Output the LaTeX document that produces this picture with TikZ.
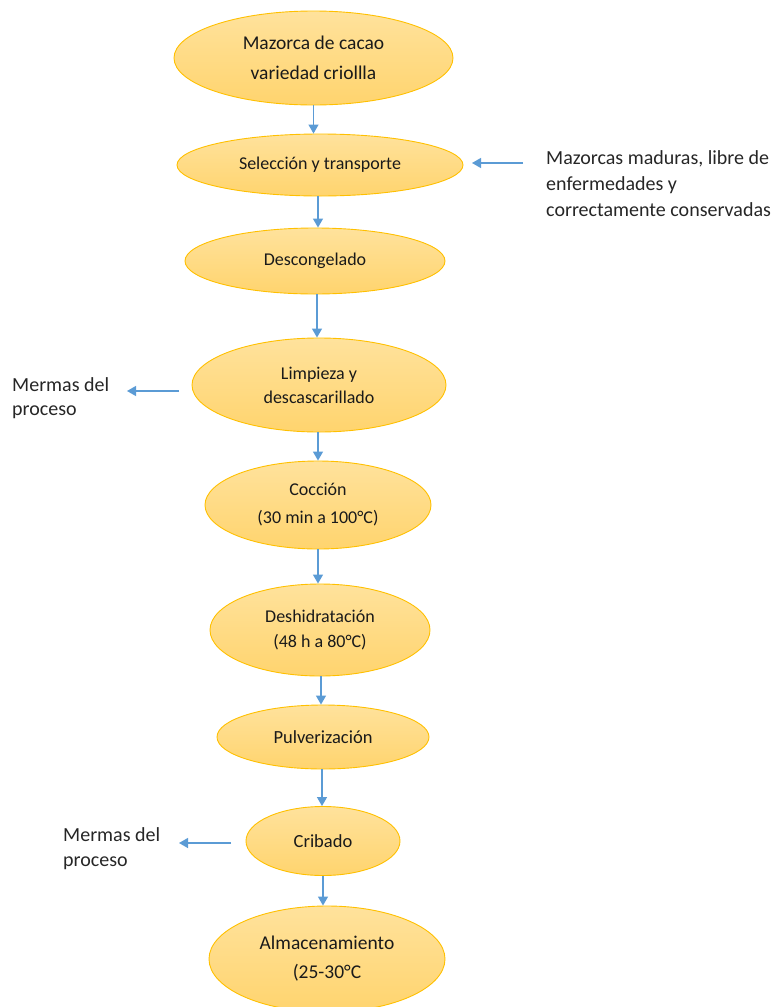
\documentclass[tikz,border=0pt]{standalone}
\usepackage{fontspec}
\setmainfont{Carlito}
\usetikzlibrary{shapes.geometric,arrows.meta}

\definecolor{edgeor}{HTML}{FFC000}
\definecolor{filltop}{HTML}{FFE29C}
\definecolor{fillbot}{HTML}{FFD46E}
\definecolor{flowblue}{HTML}{5B9BD5}
\definecolor{inktext}{HTML}{1A1A1A}
\definecolor{notetext}{HTML}{262626}

\tikzset{
  procnode/.style={ellipse, draw=edgeor, line width=0.9pt,
    top color=filltop, bottom color=fillbot,
    inner sep=0pt, align=center, text=inktext},
  flowarrow/.style={draw=flowblue, line width=1.3pt,
    -{Triangle[width=10pt,length=9pt]}},
  sidenote/.style={anchor=north west, align=left, inner sep=0pt,
    text=notetext, font=\fontsize{20}{26}\selectfont},
}

\begin{document}
\begin{tikzpicture}[x=1pt,y=-1pt]
\useasboundingbox (0,0) rectangle (776,1007);
\clip (0,0) rectangle (776,1007);

% process steps
\node[procnode, minimum width=279pt, minimum height=94pt,
      font=\fontsize{19.5}{30}\selectfont] (maz) at (313.5,58)
      {Mazorca de cacao\\variedad criollla};
\node[procnode, minimum width=286pt, minimum height=62pt,
      font=\fontsize{18}{24}\selectfont] (sel) at (320,165)
      {Selección y transporte};
\node[procnode, minimum width=260pt, minimum height=66pt,
      font=\fontsize{18}{24}\selectfont] (des) at (315,261)
      {Descongelado};
\node[procnode, minimum width=254pt, minimum height=94pt,
      font=\fontsize{18}{24}\selectfont] (lim) at (319,385)
      {Limpieza y\\descascarillado};
\node[procnode, minimum width=226pt, minimum height=88pt,
      font=\fontsize{18}{28}\selectfont] (coc) at (318,505)
      {Cocción\\(30 min a 100°C)};
\node[procnode, minimum width=220pt, minimum height=92pt,
      font=\fontsize{18}{25}\selectfont] (deh) at (320,630)
      {Deshidratación\\(48 h a 80°C)};
\node[procnode, minimum width=212pt, minimum height=64pt,
      font=\fontsize{18.5}{24}\selectfont] (pul) at (323,737)
      {Pulverización};
\node[procnode, minimum width=154pt, minimum height=69pt,
      font=\fontsize{18.5}{24}\selectfont] (cri) at (323,841)
      {Cribado};
\node[procnode, minimum width=236pt, minimum height=106pt,
      font=\fontsize{19.5}{29}\selectfont] (alm) at (327,959)
      {Almacenamiento\\(25-30°C};

% main flow
\draw[flowarrow] (maz.south) -- (maz.south |- sel.north);
\draw[flowarrow] ([xshift=-2pt]sel.south) -- ([xshift=-2pt]sel.south |- des.north);
\draw[flowarrow] ([xshift=2pt]des.south) -- ([xshift=2pt]des.south |- lim.north);
\draw[flowarrow] ([xshift=-1pt]lim.south) -- ([xshift=-1pt]lim.south |- coc.north);
\draw[flowarrow] (coc.south) -- (coc.south |- deh.north);
\draw[flowarrow] ([xshift=1pt]deh.south) -- ([xshift=1pt]deh.south |- pul.north);
\draw[flowarrow] ([xshift=-1pt]pul.south) -- ([xshift=-1pt]pul.south |- cri.north);
\draw[flowarrow] (cri.south) -- (cri.south |- alm.north);

% side notes
\node[sidenote] (ripe) at (546,150)
  {Mazorcas maduras, libre de\\enfermedades y\\correctamente conservadas};
\node[sidenote, font=\fontsize{20}{24}\selectfont] (loss1) at (12,377)
  {Mermas del\\proceso};
\node[sidenote, font=\fontsize{20}{25}\selectfont] (loss2) at (63,827)
  {Mermas del\\proceso};

\coordinate (ripein) at (523,163);
\coordinate (loss1out) at (127,391);
\coordinate (loss2out) at (179,843);

\draw[flowarrow] (ripein) -- (472,163);
\draw[flowarrow] (179,391) -- (loss1out);
\draw[flowarrow] (231,843) -- (loss2out);
\end{tikzpicture}
\end{document}
